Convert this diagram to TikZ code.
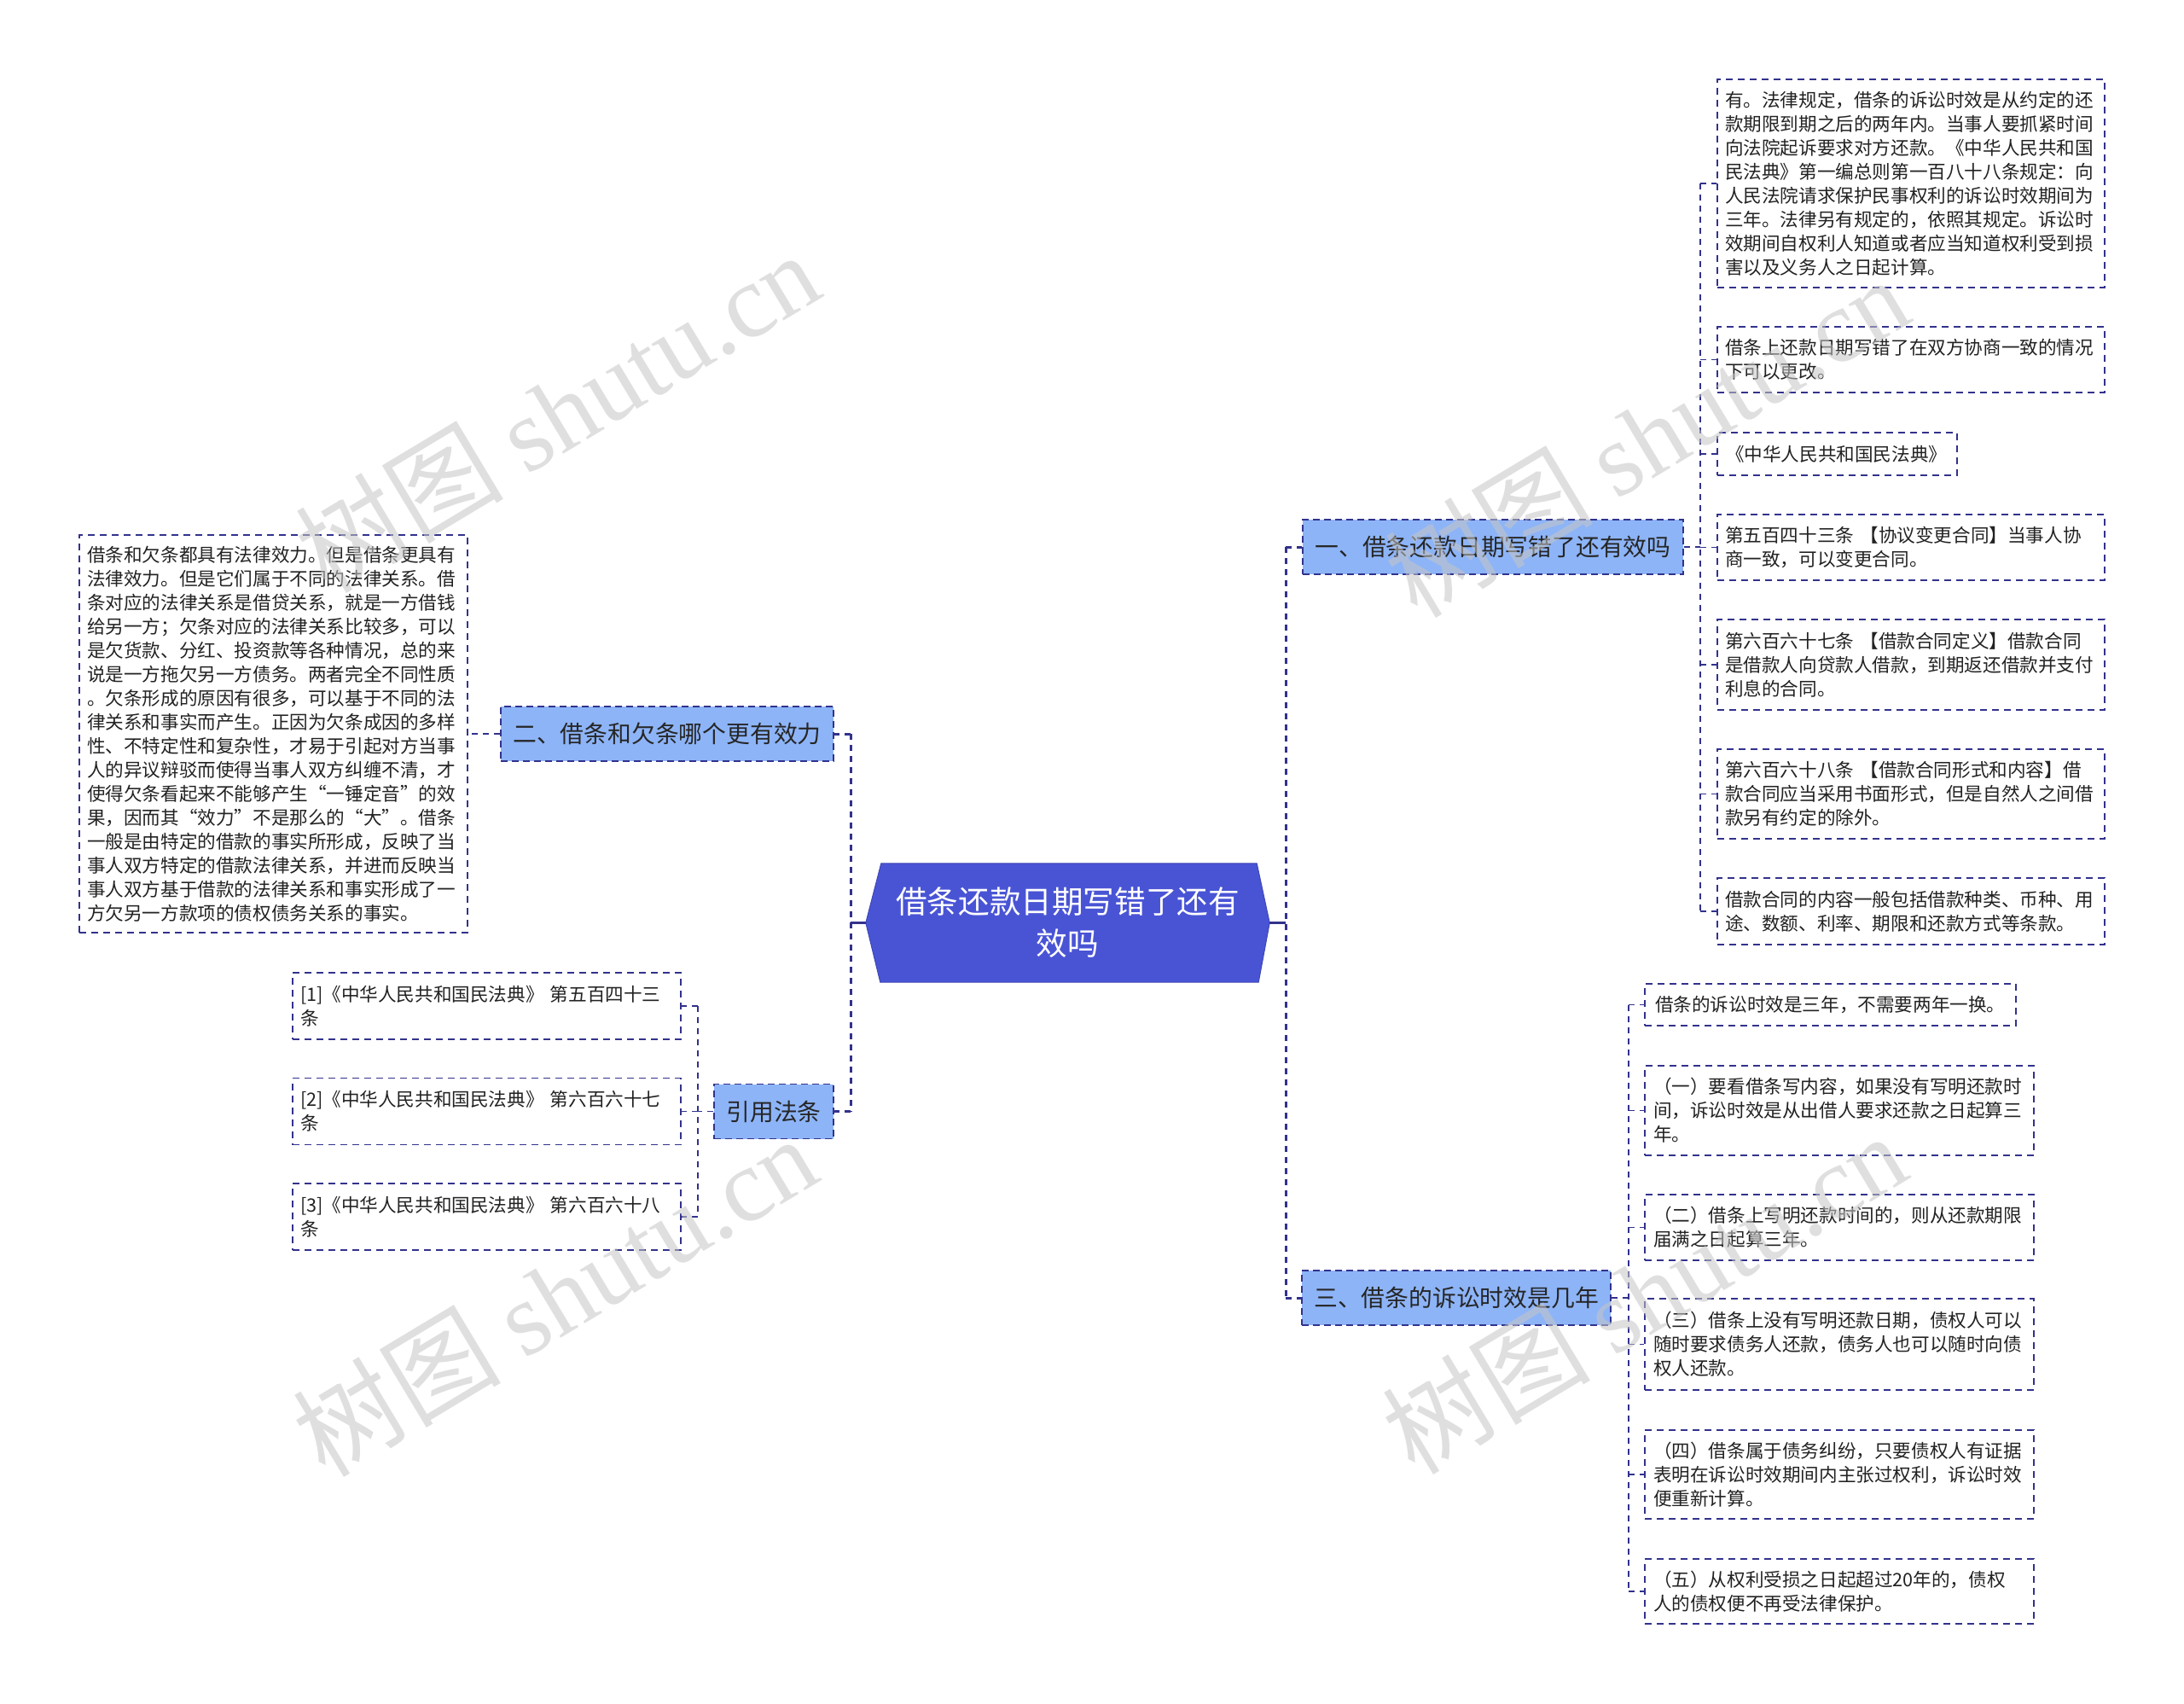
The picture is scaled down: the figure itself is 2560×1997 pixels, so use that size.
\documentclass[tikz,border=0pt]{standalone}
\usepackage{fontspec}
\setmainfont{Noto Sans CJK SC}
\newfontfamily\wmserif{Liberation Serif}
\usetikzlibrary{calc}
\definecolor{navy}{RGB}{50,50,140}
\definecolor{hubfill}{RGB}{73,84,213}
\definecolor{topicfill}{RGB}{141,180,247}
\definecolor{leaftext}{RGB}{34,34,34}
\begin{document}
\begin{tikzpicture}[x=1pt,y=-1pt,
  leaf/.style={draw=navy, line width=1.6pt, dash pattern=on 8pt off 6pt, rectangle, inner sep=0pt, align=left, font=\fontsize{21.6pt}{28pt}\selectfont, text=leaftext},
  topic/.style={draw=navy, fill=topicfill, line width=1.8pt, dash pattern=on 8pt off 5pt, inner sep=0pt, minimum height=64pt, font=\fontsize{27.8pt}{34pt}\selectfont, text=black!85},
  sub/.style={draw=navy, line width=1.6pt, dash pattern=on 7pt off 6pt},
  trunk/.style={draw=navy, line width=3pt, dash pattern=on 7pt off 6pt},
  wm/.style={rotate=31, text=gray!45, opacity=0.55, font=\fontsize{122pt}{122pt}\selectfont, inner sep=0pt}
]
\fill[white] (0,0) rectangle (2560,1997);
\useasboundingbox (0,0) rectangle (2560,1997);

% ---------- hub ----------
\node[minimum width=473pt, minimum height=139pt, inner sep=0pt] (hub) at (1251.5,1081.5) {};
\path[fill=hubfill, draw=hubfill!85!black, line width=1pt]
  (hub.west) -- ([xshift=18pt]hub.north west) -- ([xshift=-15pt]hub.north east) -- (hub.east)
  -- ([xshift=-13pt]hub.south east) -- ([xshift=17pt]hub.south west) -- cycle;
\node[text=white, align=center, inner sep=0pt, font=\fontsize{36.6pt}{49pt}\selectfont] (hubtext) at (hub.center) {借条还款日期写错了还有\\效吗};

% ---------- topics ----------
\node[topic, minimum width=446pt] (t1) at (1750,641) {一、借条还款日期写错了还有效吗};
\node[topic, minimum width=390pt] (t2) at (782,860) {二、借条和欠条哪个更有效力};
\node[topic, minimum width=140pt] (law) at (907,1302.5) {引用法条};
\node[topic, minimum width=362pt] (t3) at (1707,1521) {三、借条的诉讼时效是几年};

% ---------- topic 1 leaves ----------
\node[leaf, minimum width=454pt, minimum height=244pt, text width=436pt] (a1) at (2240,215) {有。法律规定，借条的诉讼时效是从约定的还\\款期限到期之后的两年内。当事人要抓紧时间\\向法院起诉要求对方还款。《中华人民共和国\\民法典》第一编总则第一百八十八条规定：向\\人民法院请求保护民事权利的诉讼时效期间为\\三年。法律另有规定的，依照其规定。诉讼时\\效期间自权利人知道或者应当知道权利受到损\\害以及义务人之日起计算。};
\node[leaf, minimum width=454pt, minimum height=77pt, text width=436pt] (a2) at (2240,421.5) {借条上还款日期写错了在双方协商一致的情况\\下可以更改。};
\node[leaf, minimum width=281pt, minimum height=50pt, text width=261pt] (a3) at (2153.5,532) {《中华人民共和国民法典》};
\node[leaf, minimum width=454pt, minimum height=77pt, text width=436pt] (a4) at (2240,641.5) {第五百四十三条 【协议变更合同】当事人协\\商一致，可以变更合同。};
\node[leaf, minimum width=454pt, minimum height=106pt, text width=436pt] (a5) at (2240,779) {第六百六十七条 【借款合同定义】借款合同\\是借款人向贷款人借款，到期返还借款并支付\\利息的合同。};
\node[leaf, minimum width=454pt, minimum height=105pt, text width=436pt] (a6) at (2240,930.5) {第六百六十八条 【借款合同形式和内容】借\\款合同应当采用书面形式，但是自然人之间借\\款另有约定的除外。};
\node[leaf, minimum width=454pt, minimum height=78pt, text width=436pt] (a7) at (2240,1068) {借款合同的内容一般包括借款种类、币种、用\\途、数额、利率、期限和还款方式等条款。};

% ---------- topic 2 leaf ----------
\node[leaf, minimum width=455pt, minimum height=466pt, text width=437pt] (b1) at (320.5,860) {借条和欠条都具有法律效力。但是借条更具有\\法律效力。但是它们属于不同的法律关系。借\\条对应的法律关系是借贷关系，就是一方借钱\\给另一方；欠条对应的法律关系比较多，可以\\是欠货款、分红、投资款等各种情况，总的来\\说是一方拖欠另一方债务。两者完全不同性质\\。欠条形成的原因有很多，可以基于不同的法\\律关系和事实而产生。正因为欠条成因的多样\\性、不特定性和复杂性，才易于引起对方当事\\人的异议辩驳而使得当事人双方纠缠不清，才\\使得欠条看起来不能够产生“一锤定音”的效\\果，因而其“效力”不是那么的“大”。借条\\一般是由特定的借款的事实所形成，反映了当\\事人双方特定的借款法律关系，并进而反映当\\事人双方基于借款的法律关系和事实形成了一\\方欠另一方款项的债权债务关系的事实。};

% ---------- law leaves ----------
\node[leaf, minimum width=455pt, minimum height=78pt, text width=437pt] (r1) at (570.5,1179) {[1]《中华人民共和国民法典》 第五百四十三\\条};
\node[leaf, minimum width=455pt, minimum height=78pt, text width=437pt] (r2) at (570.5,1302.5) {[2]《中华人民共和国民法典》 第六百六十七\\条};
\node[leaf, minimum width=455pt, minimum height=78pt, text width=437pt] (r3) at (570.5,1426) {[3]《中华人民共和国民法典》 第六百六十八\\条};

% ---------- topic 3 leaves ----------
\node[leaf, minimum width=435pt, minimum height=49pt, text width=411pt] (c1) at (2145.5,1177.5) {借条的诉讼时效是三年，不需要两年一换。};
\node[leaf, minimum width=456pt, minimum height=105pt, text width=436pt] (c2) at (2156,1301.5) {（一）要看借条写内容，如果没有写明还款时\\间，诉讼时效是从出借人要求还款之日起算三\\年。};
\node[leaf, minimum width=456pt, minimum height=77pt, text width=436pt] (c3) at (2156,1438.5) {（二）借条上写明还款时间的，则从还款期限\\届满之日起算三年。};
\node[leaf, minimum width=456pt, minimum height=107pt, text width=436pt] (c4) at (2156,1575.5) {（三）借条上没有写明还款日期，债权人可以\\随时要求债务人还款，债务人也可以随时向债\\权人还款。};
\node[leaf, minimum width=456pt, minimum height=104pt, text width=436pt] (c5) at (2156,1728) {（四）借条属于债务纠纷，只要债权人有证据\\表明在诉讼时效期间内主张过权利，诉讼时效\\便重新计算。};
\node[leaf, minimum width=456pt, minimum height=76pt, text width=436pt] (c6) at (2156,1865) {（五）从权利受损之日起超过20年的，债权\\人的债权便不再受法律保护。};

% ---------- trunk connectors ----------
\coordinate (jL) at (997,1081.5);
\coordinate (jR) at (1507,1081.5);
\draw[navy, line width=3pt] (hub.west) -- (jL);
\draw[navy, line width=3pt] (hub.east) -- (jR);
\draw[trunk] (jL |- t2.east) -- (jL |- law.east);
\draw[trunk] (jL |- t2.east) -- (t2.east);
\draw[trunk] (jL |- law.east) -- (law.east);
\draw[trunk] (jR |- t1.west) -- (jR |- t3.west);
\draw[trunk] (jR |- t1.west) -- (t1.west);
\draw[trunk] (jR |- t3.west) -- (t3.west);

% ---------- topic 1 branch ----------
\coordinate (j1) at (1993,641);
\draw[sub] (t1.east) -- (j1);
\draw[sub] (j1 |- a1.west) -- (j1 |- a7.west);
\foreach \n in {a1,a2,a3,a4,a5,a6,a7} \draw[sub] (j1 |- \n.west) -- (\n.west);

% ---------- topic 2 branch ----------
\draw[sub] (t2.west) -- (b1.east);

% ---------- law branch ----------
\coordinate (j4) at (818,1302.5);
\draw[sub] (law.west) -- (j4);
\draw[sub] (j4 |- r1.east) -- (j4 |- r3.east);
\foreach \n in {r1,r2,r3} \draw[sub] (j4 |- \n.east) -- (\n.east);

% ---------- topic 3 branch ----------
\coordinate (j3) at (1909,1521);
\draw[sub] (t3.east) -- (j3);
\draw[sub] (j3 |- c1.west) -- (j3 |- c6.west);
\foreach \n in {c1,c2,c3,c4,c5,c6} \draw[sub] (j3 |- \n.west) -- (\n.west);

% ---------- watermarks ----------
\node[wm] (wm1) at (653,482) {树图 {\wmserif shutu.cn}};
\node[wm] (wm2) at (650,1518) {树图 {\wmserif shutu.cn}};
\node[wm] (wm3) at (1930,511) {树图 {\wmserif shutu.cn}};
\node[wm] (wm4) at (1927,1515) {树图 {\wmserif shutu.cn}};
\end{tikzpicture}
\end{document}
